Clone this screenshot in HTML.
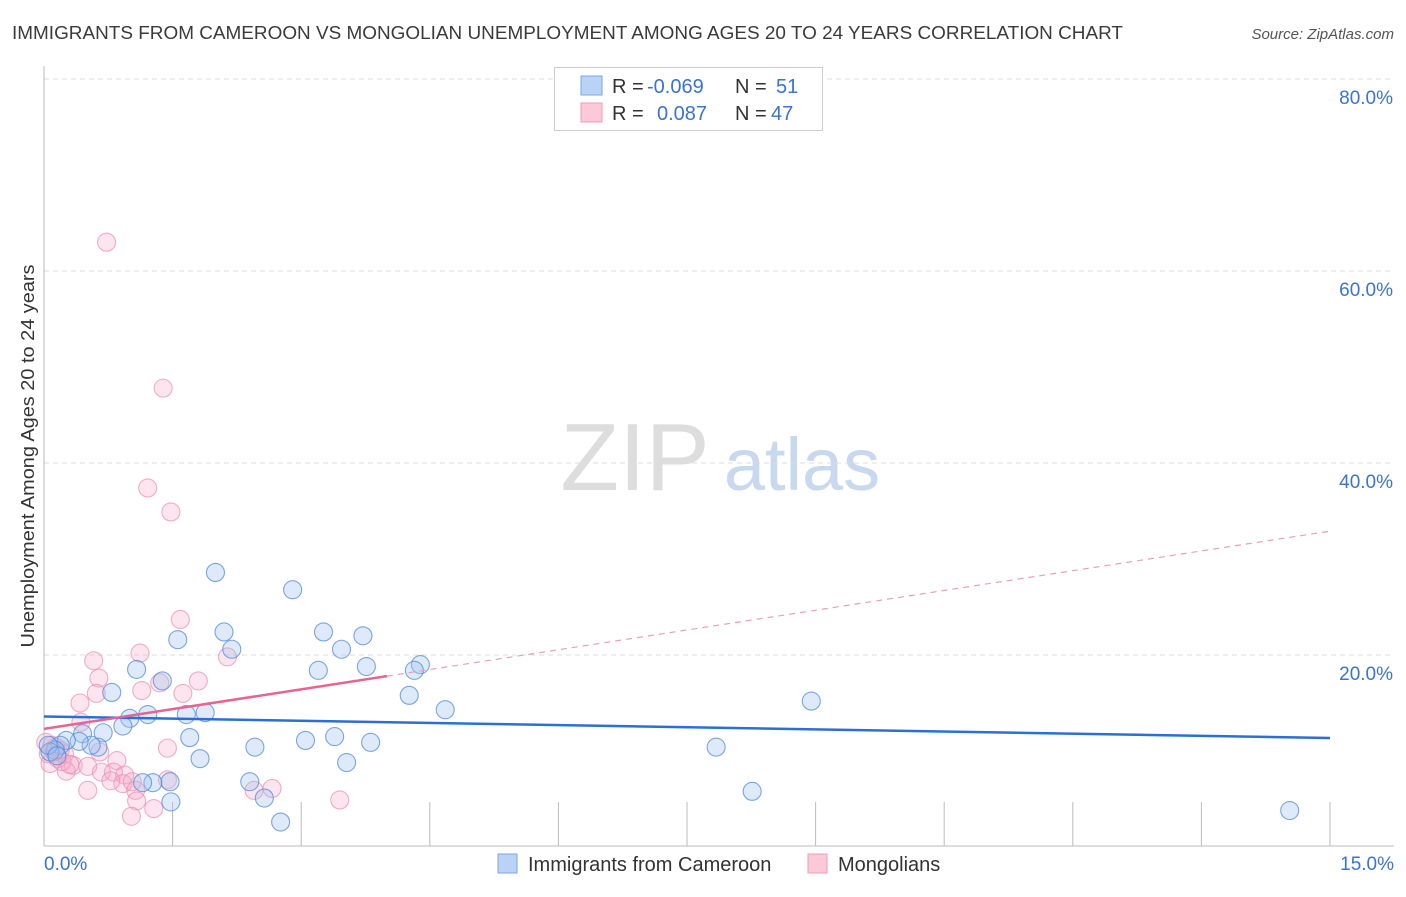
<!DOCTYPE html>
<html><head><meta charset="utf-8"><style>
body{margin:0;background:#fff;font-family:"Liberation Sans",sans-serif;}
svg text{font-family:"Liberation Sans",sans-serif;}
</style></head><body>
<svg id="chart" width="1406" height="892" xmlns="http://www.w3.org/2000/svg">
<text x="12" y="39" font-size="18" fill="#3a3a3a" textLength="1111" lengthAdjust="spacingAndGlyphs">IMMIGRANTS FROM CAMEROON VS MONGOLIAN UNEMPLOYMENT AMONG AGES 20 TO 24 YEARS CORRELATION CHART</text>
<text x="1394" y="39" font-size="15" fill="#555" text-anchor="end" font-style="italic">Source: ZipAtlas.com</text>
<text transform="translate(34,456) rotate(-90)" font-size="18" fill="#333" text-anchor="middle" textLength="383" lengthAdjust="spacingAndGlyphs">Unemployment Among Ages 20 to 24 years</text>
<g>
<text x="635" y="490" font-size="96" fill="#ddd" font-family="Liberation Serif" text-anchor="middle">ZIP</text>
<text x="802" y="490" font-size="74" fill="#c8d8ee" text-anchor="middle">atlas</text>
</g>
<g id="grid"></g>
<g id="axes"></g>
<g id="pts"></g>
<g id="trends"></g>
<g>
<rect x="554.5" y="67.5" width="268" height="63" fill="#fff" stroke="#ccc"/>
<rect x="581" y="76" width="21" height="19" fill="#b9d2f5" stroke="#7aa6e6"/>
<rect x="581" y="103" width="21" height="19" fill="#fbc9d8" stroke="#f09ab4"/>
<text x="612" y="93" font-size="20" fill="#333">R =</text>
<text x="647" y="93" font-size="20" fill="#3a73d0">-0.069</text>
<text x="735" y="93" font-size="20" fill="#333">N =</text>
<text x="776" y="93" font-size="20" fill="#3a73d0">51</text>
<text x="612" y="120" font-size="20" fill="#333">R =</text>
<text x="657" y="120" font-size="20" fill="#3a73d0">0.087</text>
<text x="735" y="120" font-size="20" fill="#333">N =</text>
<text x="771" y="120" font-size="20" fill="#3a73d0">47</text>
</g>
<g>
<rect x="498" y="854" width="19" height="19" fill="#b9d2f5" stroke="#7aa6e6"/>
<text x="528" y="871" font-size="20" fill="#333">Immigrants from Cameroon</text>
<rect x="808" y="854" width="19" height="19" fill="#fbc9d8" stroke="#f09ab4"/>
<text x="838" y="871" font-size="20" fill="#333">Mongolians</text>
</g>
</svg>
<script>
const blueX=[2.0,2.9,2.1,3.26,3.72,1.56,2.19,3.47,1.08,3.2,3.76,4.39,4.32,0.79,4.26,4.68,8.95,1.38,1.21,1.66,1.88,1.0,0.92,0.69,0.45,1.7,3.05,3.39,3.81,2.46,7.84,0.63,0.55,0.41,0.26,0.19,0.13,0.07,1.82,3.53,2.4,1.47,1.27,1.15,1.48,2.57,8.26,2.76,14.53,0.05,0.15];
const blueY=[28.6,26.8,22.4,22.4,22.0,21.6,20.6,20.6,18.5,18.4,18.8,19.0,18.4,16.1,15.8,14.3,15.2,17.3,13.8,13.8,14.0,13.4,12.6,11.9,11.8,11.4,11.1,11.5,10.9,10.4,10.4,10.4,10.6,11.0,11.1,10.6,10.1,9.9,9.2,8.8,6.8,6.8,6.7,6.7,4.7,5.1,5.8,2.6,3.8,10.6,9.5];
const pinkX=[0.73,1.39,1.21,1.48,1.59,1.12,2.14,0.58,0.64,1.35,1.14,1.62,0.61,0.42,0.43,1.44,0.65,0.85,0.16,0.09,0.02,0.24,0.34,0.51,0.26,0.81,0.67,0.94,0.92,1.03,0.78,1.07,2.45,2.66,1.08,0.51,1.28,1.02,3.45,0.07,0.19,0.21,0.3,0.12,0.05,0.14,1.8,1.44];
const pinkY=[63.0,47.8,37.4,34.9,23.7,20.2,19.8,19.4,17.6,17.1,16.3,16.0,16.0,15.0,13.0,10.3,9.9,9.0,9.2,10.6,10.9,9.7,8.5,8.4,7.9,7.8,7.8,7.5,6.6,6.8,6.9,5.9,5.9,6.1,4.8,5.9,4.0,3.2,4.9,8.7,10.1,8.9,8.6,9.9,9.7,10.4,17.3,7.0];
const blueTrend=[13.6,11.35];
const pinkTrend=[12.3,17.8,32.9];
const X=v=>44+v/15*1286, Y=v=>847-v*9.6;
const NS='http://www.w3.org/2000/svg';
function mk(t,a,p){const e=document.createElementNS(NS,t);for(const k in a)e.setAttribute(k,a[k]);p.appendChild(e);return e;}
const grid=document.getElementById('grid'),axes=document.getElementById('axes');
const yTicks=[20,40,60,80];
yTicks.forEach(v=>{
 const l=mk('line',{x1:44,x2:1394,y1:Y(v),y2:Y(v),stroke:'#ddd','stroke-dasharray':'5,4'},grid);
 
 
 const t=mk('text',{x:1393,y:Y(v)+25,'font-size':19,fill:'#3a73d0','text-anchor':'end'},axes);
 t.textContent=v.toFixed(1)+'%';
 
 
});
let l=mk('line',{x1:44,x2:44,y1:66,y2:846,stroke:'#bbb'},axes);


l=mk('line',{x1:44,x2:1394,y1:846,y2:846,stroke:'#bbb'},axes);


for(let i=1;i<=10;i++){
 const tk=mk('line',{x1:X(i*1.5),x2:X(i*1.5),y1:802,y2:846,stroke:'#bbb'},axes);
 
 
}
const xTickLabels=['0.0%','15.0%'];
let t=mk('text',{x:44,y:870,'font-size':19,fill:'#3a73d0'},axes);t.textContent=xTickLabels[0];


t=mk('text',{x:1394,y:870,'font-size':19,fill:'#3a73d0','text-anchor':'end'},axes);t.textContent=xTickLabels[1];


const pts=document.getElementById('pts');
pinkX.forEach((x,i)=>{const c=mk('circle',{cx:X(x),cy:Y(pinkY[i]),r:9,fill:'rgba(246,170,198,0.3)',stroke:'rgba(236,140,172,0.7)','stroke-width':1.1},pts);
 
 });
blueX.forEach((x,i)=>{const c=mk('circle',{cx:X(x),cy:Y(blueY[i]),r:9,fill:'rgba(160,196,240,0.35)',stroke:'rgba(80,138,218,0.75)','stroke-width':1.1},pts);
 
 });
const tr=document.getElementById('trends');
l=mk('line',{x1:X(0),y1:Y(blueTrend[0]),x2:X(15),y2:Y(blueTrend[1]),stroke:'#2a6fd6','stroke-width':2.5},tr);


l=mk('line',{x1:X(0),y1:Y(pinkTrend[0]),x2:X(4),y2:Y(pinkTrend[1]),stroke:'#e8638f','stroke-width':2.5},tr);


l=mk('line',{x1:X(4),y1:Y(pinkTrend[1]),x2:X(15),y2:Y(pinkTrend[2]),stroke:'#e8a0b8','stroke-width':1.2,'stroke-dasharray':'6,5'},tr);


</script>
</body></html>
